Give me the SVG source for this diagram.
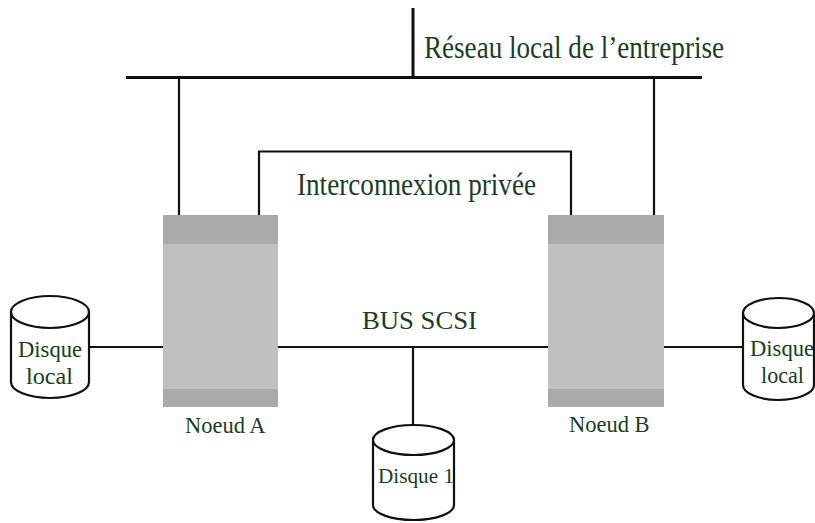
<svg xmlns="http://www.w3.org/2000/svg" width="815" height="523" viewBox="0 0 815 523">
<style>
.ln{stroke:#111;stroke-width:2.2;fill:none}
.thick{stroke:#111;stroke-width:3;fill:none}
.body{fill:#c0c0c0}
.band{fill:#aaaaaa}
.disk{fill:#fff;stroke:#111;stroke-width:2.2}
.t{font-family:"Liberation Serif","Times New Roman",serif;fill:#173f24}
</style>
<rect width="815" height="523" fill="#fff"/>
<g id="connectors">
<line class="thick" x1="413" y1="8" x2="413" y2="78"/>
<line class="thick" x1="126" y1="77.5" x2="702" y2="77.5"/>
<line class="ln" x1="179" y1="78" x2="179" y2="215"/>
<line class="ln" x1="654" y1="78" x2="654" y2="215"/>
<path class="ln" d="M259,215 V151.5 H571 V215"/>
<line class="ln" x1="278" y1="347" x2="548" y2="347"/>
<line class="ln" x1="89" y1="347" x2="163" y2="347"/>
<line class="ln" x1="664" y1="347" x2="743" y2="347"/>
<line class="ln" x1="413" y1="347" x2="413" y2="425"/>
</g>
<g id="label-reseau"><text class="t" x="424" y="58" font-size="31" textLength="300" lengthAdjust="spacingAndGlyphs">Réseau local de l’entreprise</text></g>
<g id="label-interconnexion"><text class="t" x="297" y="195" font-size="31" textLength="239" lengthAdjust="spacingAndGlyphs">Interconnexion privée</text></g>
<g id="label-bus"><text class="t" x="362" y="329" font-size="25" textLength="115" lengthAdjust="spacingAndGlyphs">BUS SCSI</text></g>
<g id="noeud-a">
<rect class="body" x="163" y="215" width="115" height="192"/>
<rect class="band" x="163" y="215" width="115" height="29"/>
<rect class="band" x="163" y="389" width="115" height="18"/>
<text class="t" x="185" y="433" font-size="22.5">Noeud A</text>
</g>
<g id="noeud-b">
<rect class="body" x="548" y="215" width="116" height="192"/>
<rect class="band" x="548" y="215" width="116" height="29"/>
<rect class="band" x="548" y="389" width="116" height="18"/>
<text class="t" x="569" y="432" font-size="22.5">Noeud B</text>
</g>
<g id="disque-local-a">
<path class="disk" d="M11,312 V382 A39,16 0 0 0 89,382 V312"/>
<ellipse class="disk" cx="50" cy="312" rx="39" ry="16"/>
<text class="t" x="18" y="357" font-size="23" textLength="64" lengthAdjust="spacingAndGlyphs">Disque</text>
<text class="t" x="26" y="384" font-size="23" textLength="47" lengthAdjust="spacingAndGlyphs">local</text>
</g>
<g id="disque-local-b">
<path class="disk" d="M743,313 V385 A35.5,15 0 0 0 814,385 V313"/>
<ellipse class="disk" cx="778.5" cy="313" rx="35.5" ry="15"/>
<text class="t" x="750" y="356" font-size="23" textLength="64" lengthAdjust="spacingAndGlyphs">Disque</text>
<text class="t" x="761" y="383" font-size="23" textLength="43" lengthAdjust="spacingAndGlyphs">local</text>
</g>
<g id="disque-1">
<path class="disk" d="M373,440 V505 A40.5,15 0 0 0 454,505 V440"/>
<ellipse class="disk" cx="413.5" cy="440" rx="40.5" ry="15"/>
<text class="t" x="378" y="483" font-size="22" textLength="76" lengthAdjust="spacingAndGlyphs">Disque 1</text>
</g>
</svg>
